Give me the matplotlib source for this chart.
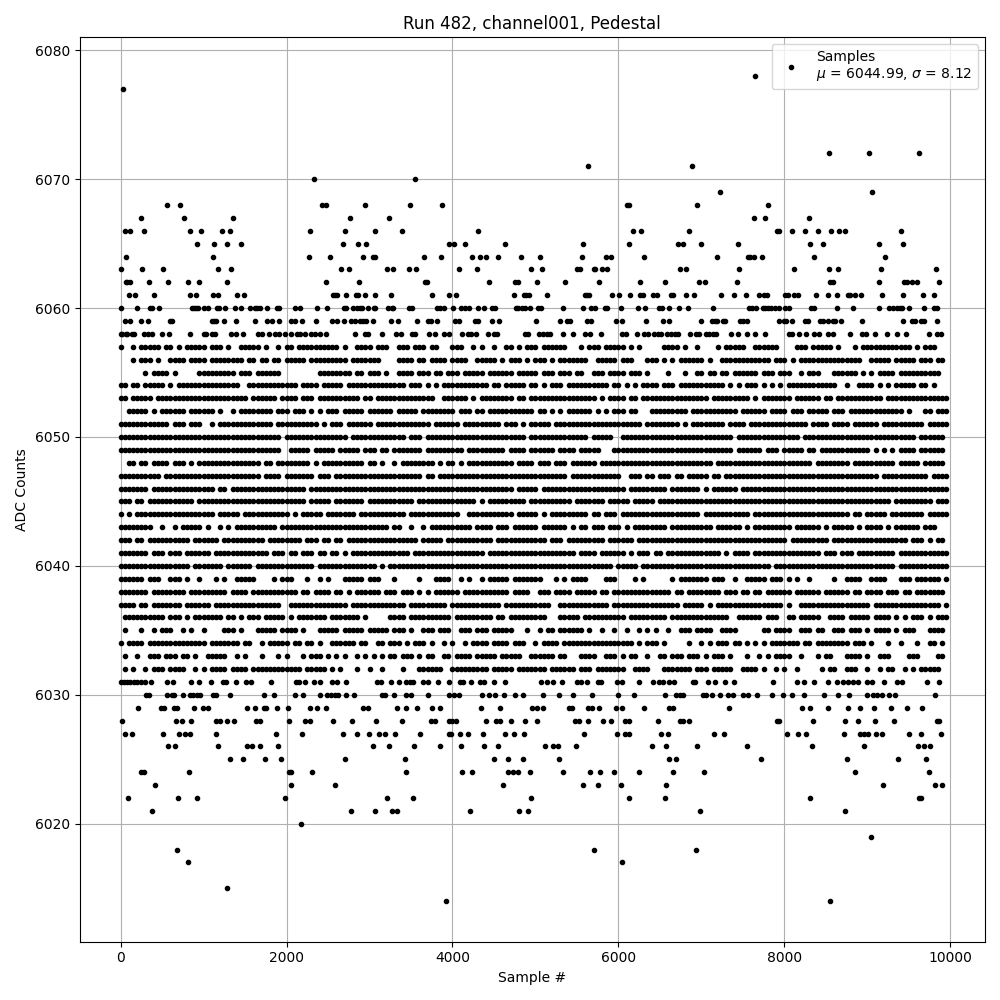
import matplotlib
matplotlib.use("Agg")
import matplotlib.pyplot as plt

# Sparse ADC levels, sample numbers
upper_samples = {
    6078: [7651],
    6077: [32],
    6072: [8542, 9024, 9626],
    6071: [5633, 6892],
    6070: [2326, 3552],
    6069: [7229, 9060],
    6068: [563, 720, 2422, 2475, 2941, 3492, 3879, 6105, 6129, 6952, 7807],
    6067: [250, 769, 1360, 2760, 3231, 7639, 7771, 8301],
    6066: [56, 117, 286, 841, 974, 1227, 1324, 2278, 2700, 3062, 3395, 4302, 6177, 6274,
           6855, 7916, 7940, 8096, 8253, 8410, 8566, 8663, 8735, 9410],
    6065: [926, 1131, 1288, 1457, 2676, 2857, 2954, 3964, 4024, 4145, 4629, 5572, 6129,
           6722, 6782, 7000, 7446, 8313, 8470, 9145, 9434],
    6064: [68, 1119, 2266, 2519, 2917, 3040, 3062, 3661, 3867, 4230, 4327, 4399, 4544,
           4823, 5052, 5560, 5851, 5911, 6310, 7193, 7566, 7590, 7639, 7735, 8361, 9217],
    6063: [0, 262, 515, 1179, 1336, 2652, 2748, 3207, 3280, 3480, 3565, 4073, 4290, 4943,
           5077, 5500, 5536, 5706, 5718, 5802, 5863, 6746, 6819, 7458, 8120, 8542, 8651,
           9169, 9831],
    6062: [60, 80, 117, 346, 575, 817, 950, 1288, 2471, 2869, 3673, 3698, 4435, 4750, 4786,
           5016, 5355, 5766, 6262, 6564, 6976, 7048, 7434, 8554, 8590, 9145, 9446, 9482,
           9542, 9602, 9867],
    6061: [105, 177, 406, 841, 913, 1119, 1179, 1408, 1493, 2555, 2579, 2604, 2712, 2833,
           2857, 2941, 3062, 3255, 3758, 3952, 4048, 4738, 4859, 4883, 4919, 5137, 5597,
           5621, 5645, 5923, 6008, 6141, 6262, 6298, 6411, 6468, 6637, 6661, 6819, 6916,
           7241, 7398, 7542, 7699, 7759, 7795, 8012, 8048, 8120, 8169, 8386, 8530, 8639,
           8771, 8795, 8855, 8928, 9181, 9434, 9675, 9807],
    6060: [8, 201, 358, 382, 467, 865, 889, 913, 938, 1010, 1058, 1167, 1191, 1264, 1384,
           1457, 1565, 1614, 1638, 1678, 1767, 1891, 1915, 2097, 2157, 2370, 2483, 2688,
           2712, 2797, 2845, 2881, 2905, 2978, 3050, 3062, 3219, 3267, 3280, 3480, 3516,
           3819, 3855, 3903, 4012, 4097, 4145, 4194, 4302, 4375, 4472, 4508, 4762, 4786,
           4835, 4871, 4931, 5028, 5065, 5331, 5572, 5669, 5718, 5839, 5863, 6032, 6238,
           6322, 6492, 6528, 6613, 6734, 6843, 7145, 7578, 7614, 7663, 7747, 7771, 7807,
           7843, 7892, 7940, 8012, 8060, 8325, 8361, 8639, 8831, 9145, 9265, 9313, 9361,
           9397, 9422, 9506, 9687, 9807, 9843],
    6059: [56, 117, 250, 334, 600, 624, 1107, 1131, 1155, 1251, 1396, 1614, 1770, 1819,
           1915, 2048, 2097, 2181, 2350, 2543, 2604, 2688, 2773, 2821, 2881, 2917, 2954,
           3038, 3255, 3340, 3577, 3710, 3746, 3819, 4036, 4073, 4266, 4302, 4472, 4556,
           5004, 5294, 5379, 5415, 5621, 5669, 5972, 6044, 6334, 6540, 6613, 7000, 7133,
           7169, 7193, 7265, 7289, 7470, 7506, 7554, 7940, 8000, 8024, 8096, 8253, 8289,
           8434, 8470, 8530, 8590, 8614, 8687, 8940, 9434, 9542, 9578, 9651, 9687, 9843],
    6058: [0, 20, 60, 80, 141, 165, 286, 334, 382, 503, 588, 841, 1010, 1034, 1107, 1143,
           1336, 1396, 1481, 1662, 1710, 1783, 1855, 1915, 1976, 2048, 2121, 2157, 2217,
           2290, 2338, 2398, 2471, 2821, 2941, 2978, 3147, 3316, 3383, 3516, 3552, 3722,
           3794, 3903, 3952, 4109, 4181, 4218, 4278, 4423, 4496, 4532, 4871, 4907, 5040,
           5089, 5137, 5173, 5331, 5452, 5597, 5657, 5790, 6044, 6093, 6226, 6310, 6359,
           6431, 6480, 6516, 6580, 6637, 6685, 6722, 6867, 6940, 6976, 7060, 7096, 7145,
           7181, 7361, 7446, 7554, 7651, 7771, 8060, 8096, 8181, 8265, 8361, 8422, 8530,
           8590, 8795, 8940, 8988, 9096, 9241, 9361, 9470, 9747, 9843, 9892],
}

lower_samples = {
    6031: [8, 44, 80, 117, 165, 201, 250, 298, 370, 563, 636, 853, 950, 1095, 1239, 1276,
           1396, 1517, 1577, 1807, 2109, 2145, 2217, 2326, 2398, 2543, 2604, 2712, 3086,
           3135, 3254, 3355, 3435, 3484, 3524, 3649, 3710, 3831, 3952, 4093, 4129, 4218,
           4331, 4379, 4496, 4629, 5064, 5137, 5210, 5318, 5500, 5548, 5621, 5754, 5790,
           5984, 6044, 6250, 6419, 6492, 6540, 6613, 6673, 6896, 6928, 7080, 7169, 7285,
           7398, 7859, 8157, 8241, 8361, 8530, 8631, 8711, 8771, 8831, 8892, 8992, 9052,
           9205, 9361, 9422, 9723, 9868],
    6030: [310, 346, 563, 624, 648, 757, 841, 877, 926, 962, 1119, 1155, 1324, 1734, 1843,
           2097, 2193, 2398, 2483, 2531, 2579, 2616, 2712, 2809, 3147, 3183, 3298, 3435,
           3504, 3710, 3964, 4024, 4073, 4351, 4443, 4508, 4617, 4750, 4847, 5089, 5282,
           5452, 5681, 5996, 6190, 6564, 6693, 6742, 6782, 7024, 7056, 7133, 7229, 7325,
           7386, 7506, 7558, 7675, 7847, 7988, 8096, 8241, 8482, 8651, 8783, 8992, 9064,
           9112, 9173, 9265, 9337, 9819],
    6029: [213, 491, 527, 648, 684, 885, 998, 1058, 1529, 1614, 1734, 1758, 1891, 2012,
           2278, 2362, 2471, 2917, 2978, 3328, 3435, 3573, 3758, 3855, 4339, 4569, 4956,
           5016, 5089, 5403, 5439, 5633, 5681, 5766, 5972, 6044, 6310, 6613, 6661, 7337,
           8217, 8309, 8526, 8771, 8916, 9080, 9289, 9482, 9663],
    6028: [20, 672, 744, 853, 1155, 1203, 1288, 1372, 1626, 1686, 2024, 2217, 2278, 2555,
           2785, 3074, 3395, 3746, 3794, 3952, 4000, 4040, 4403, 4524, 4569, 4702, 4871,
           5016, 5476, 5524, 5633, 5814, 5911, 6081, 6129, 6480, 6742, 6782, 6855, 7916,
           7940, 8349, 8735, 8892, 9092, 9325, 9843, 9867],
    6027: [56, 141, 515, 708, 781, 841, 1155, 1867, 2181, 2676, 2845, 2990, 3111, 3183,
           3310, 3613, 3952, 3988, 4085, 4181, 4363, 4629, 4738, 4859, 5585, 5984, 6081,
           6129, 6516, 6601, 7157, 7277, 8036, 8169, 8265, 8723, 8916, 8964, 9012, 9108,
           9181, 9506, 9651, 9892],
    6026: [575, 660, 1179, 1529, 1589, 1686, 1903, 3038, 3231, 3540, 3855, 4097, 4375, 4544,
           5113, 5210, 5270, 5488, 6407, 6576, 6952, 7554, 8337, 8964, 9614, 9687, 9759],
    6025: [1324, 1481, 1746, 1928, 2700, 3431, 4496, 4665, 4847, 5282, 6613, 6698, 7723,
           8759, 9373, 9711],
    6024: [250, 286, 829, 2024, 2048, 2302, 3444, 4109, 4230, 4665, 4726, 4786, 4931, 5331,
           5657, 5778, 5947, 6250, 6661, 7036, 8855, 9747],
    6023: [418, 2048, 2579, 4605, 5572, 5754, 6032, 6576, 9193, 9819, 9904],
    6022: [93, 696, 926, 1976, 3207, 3528, 4943, 6129, 6564, 8313, 9626, 9650],
    6021: [382, 2773, 3062, 3268, 3328, 4206, 4798, 4907, 6988, 8735],
    6020: [2169],
    6019: [9048],
    6018: [684, 5706, 6940],
    6017: [817, 6044],
    6015: [1288],
    6014: [3919, 8554],
}

# Dense ADC levels, one mark per 50 samples, each group of 20 is 1000 samples
band_rows = {
    6057: "#..#.#####.##.#.#### #.###.#..#####.#..#. ##.##########.#..### #.###..###.###.##... ###..#.#..#..##.#.## #.######...#.###.### ##.#.#.....####.#..# ....#.#####..######. ...###.#####.#...#.# ###########.#.###...",
    6056: "...#.###.#..####.### #.########.##.##.##. #####.#########.#### ###....####.##.####. ####..#####.#.###.#. ###.#.#######..##### .###...###.#.#.##### #.#..############.## #.#.###############. .#####.#####.###.##.",
    6055: "......#.####.#.....# ########.###.######. ........########.##. ###.#..####.###.##.# ##.#####.######.#### #.###.###.##..###.## ##.###.#....#...#..# #.##.##.######.###.# ##..#.###...######.# .#.####.##########..",
    6054: "##.##.#####.#.###### #########..######### ###.####.#####.##### #########.###.#.#.## #########.##.#####.# #.#.###.##########.# #.#.#.####.###.##### ######.#.#.###.#.#.# .############..#..## ##.#.#.#####.##.#...",
    6053: "##.#####.########### ###########.######.# ###.###.##########.# #.##############..## ####.#.########.##.# ###############.#.## ##.##.############## ##.#########.#.##### ##.######.##.####### ####.###############",
    6052: "..#####.#.######.### ###.#..#.########.## #.###.#.#.###.#####. ######.#####.####### #.###.##.########### .##.#.#.######.#.#.# ##.##...#########.## #########.######.### #.###.#####.###.#### #########.#...##.###",
    6051: "############.###.### ..#.#############.## ########.#.###.##### #.#############.#### ##.#########.###.#.# ####.############### ######.########.#.## ######.####.######## ######.####.####.### ###.##########.#####",
    6050: "#################### ###################. ###############.#### #########.###.###### ##################.# #############.#####. .################### ########.########### ####.############### ############.######.",
    6049: "#################### ###################. .#####.#####.#####.# ##.##.#######.###### ###.#########.####.# #####.####.#####...# #################### ########.######.###. #####.##.########### #.#.#.#.####.######.",
    6048: "..##.##.####.###.#.# ##############.##.## ######.#.##########. ##.#..#.########.#.# #.#.###########.#### .###.###.######.#### #################### ###.################ #######.########.### #######.#####.#####.",
    6047: "##########.######### ##############.####. #######.###.######## #############.##.### #################### ########.########### #..###.##.###.##.### ##.##.############## #################### ###.###########.####",
    6046: "#######.############ ###.##.############# #####.############## #################### ###############.#### #.################## ##.#########.####### .#.######.########## #################### ####################",
    6045: "###.##.###########.# #################### #####.#####.#######. ###########.######## ######.#.#########.# #########.#######.## ###.#####.########## #################### #################### ######.#########.###",
    6044: "#.#.################ ###.#####.########## #.#.#####.#######.## #########.########## ##..###########.#### #.#.#########.##.### .################### .###########.####### ################.##. #####.########.#####",
    6043: "########..#..#.##### .#..#.#.##########.# #################### #####.##..#..#.##### #####.####.###.##### #.######.#.##.###.## #.#.########.####### ###.######.#.####### ##.######.#.#####.#. ####.#.######.###...",
    6042: "###.##.##########.## ####.##########.#### ####.###.##.##.##### ############.#####.# ##########.######### ###.###.#########.## ####.############### #################### #.#########.######## ##########.###.#.##.",
    6041: "#######.###.###.#### ##.#############.### .##.###.##.##.#.#### ##########.######### ########.########### ##########.####.#### ##.#.###.##.######## #####.#.####.####### #########.###.###.## #######.############",
    6040: "#################.## #####.######.####### #######.############ ##.#.############### #################### ###################. #####.############## #################.## #################### #######.############",
    6039: "######.###..###.#..# ...#.#..#####....#.# ##...#..#.#...#####. ###...#.....#...#### ..#.#..#.#####.##### ##...#.#.####....### ....#.#......#.##### ##.###..#..#####.### .#.#..#.....#..####. .####...###.######.#",
    6038: "#######.########.### ######.####.######## ###.##.####.##.#.### ###.###.###.#.#.#### ##.###########.####. .###.####.#####.##.# #############.##.### #####.###.##.##.#### ##.######.######.##. ####.###.##.#######.",
    6037: "####.##.#######.#### ##.################. .##############.#### #########.#########. ############.####### ####..############.# ###############.#### #.#.################ .#..################ #.################.#",
    6036: ".##########.###.#.## #####.##.#.###.##### .#.#######.#######.# .....####.########## .#########.##.###### ###...#####.######## ##.#########.####### #######..######.###. .##.#####..####.#### #.####.#.#.###.#.###",
    6035: ".#...#..#.###..#.#.. #....###.#...#####.# ###.#...#####.#####. #####.###.#..###.### ..###.###.#####...#. .#.##.######.#..#..# ..#..#.#.#..#..###.# ###..####......##.## ##..###.##..###.###. #.####.#.###...####.",
    6034: "#.####.############# #.#######.##..#.#### #.##.##.#..######.## ..##.###.#.###.#..#. #..#.####.####.###.. #.####.############# ####.#.###.#.....#.. #.#.###.##.#.#.#.### ####.##.########.### .#...#..#...#..##.#.",
    6033: ".#..#..###.###.##.#. .#####..#.#...#...#. #...#.###.#.#.#..#.# .#.#.##.###.#.##..## .####.#####.#####..# #####.##...####..### .#.##..#..##.###.### .#.###.#...#..#.#.## ##..#...#.##...####. #..###....###....##.",
    6032: ".#.#..#.###.####..#. #.####.####.######## ####.#####.#.#...#.. #..#....#...######.. #########.#####.#### ###.######.###.##### ##..####...#######.# ##.#####..####.#..#. #..#.....#.##..###.. #..#.##..#.#.#####..",
}


def collect_points():
    samples = []
    counts = []
    for level, values in list(upper_samples.items()) + list(lower_samples.items()):
        samples += values
        counts += [level] * len(values)
    for level, row in band_rows.items():
        cells = row.replace(" ", "")
        hits = [i * 50 for i, c in enumerate(cells) if c == "#"]
        samples += hits
        counts += [level] * len(hits)
    return samples, counts


def main():
    samples, counts = collect_points()

    fig, ax = plt.subplots(figsize=(10, 10))
    ax.plot(samples, counts, "k.", label="Samples\n$\\mu$ = 6044.99, $\\sigma$ = 8.12")

    ax.set_title("Run 482, channel001, Pedestal")
    ax.set_xlabel("Sample #")
    ax.set_ylabel("ADC Counts")
    ax.set_xlim(-495, 10418)
    ax.set_ylim(6010.85, 6081.0)
    ax.grid(True)
    ax.legend(loc="upper right")

    fig.tight_layout()
    fig.savefig("out.png", dpi=100)


if __name__ == "__main__":
    main()
